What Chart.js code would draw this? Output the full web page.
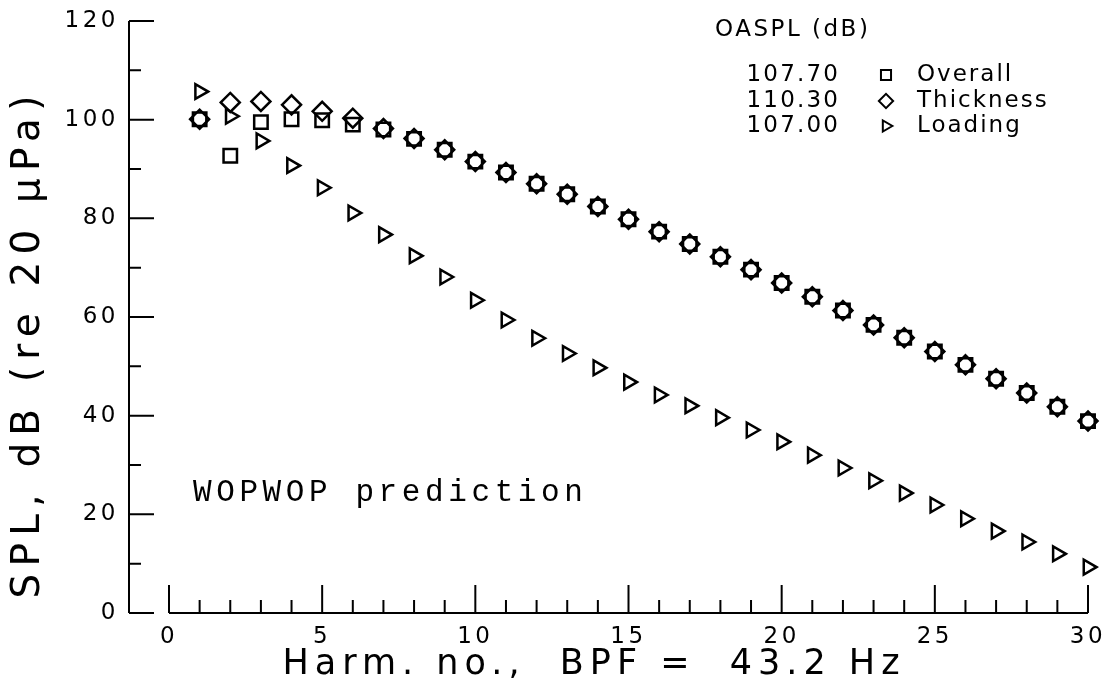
<!DOCTYPE html>
<html>
<head>
<meta charset="utf-8">
<title>WOPWOP harmonic spectrum</title>
<script src="https://cdn.jsdelivr.net/npm/chart.js@4/dist/chart.umd.min.js"></script>
<style>
  html, body { margin: 0; padding: 0; background: #fff; }
  canvas { display: block; }
</style>
</head>
<body>
<canvas id="spl" width="1109" height="691"></canvas>
<script>
// harmonic number of the blade passing frequency
const harmonics = [1, 2, 3, 4, 5, 6, 7, 8, 9, 10, 11, 12, 13, 14, 15,
  16, 17, 18, 19, 20, 21, 22, 23, 24, 25, 26, 27, 28, 29, 30];

// SPL per harmonic, dB re 20 uPa
const overall = [100.1, 92.7, 99.5, 100.1, 99.9, 99.0, 98.0, 96.1, 93.9, 91.5,
  89.3, 87.0, 84.9, 82.4, 79.8, 77.3, 74.8, 72.2, 69.6, 66.9,
  64.1, 61.3, 58.4, 55.8, 53.0, 50.3, 47.5, 44.6, 41.8, 38.9];
const thickness = [100.1, 103.5, 103.7, 103.0, 101.7, 100.3, 98.2, 96.2, 93.9, 91.5,
  89.3, 87.0, 84.9, 82.4, 79.8, 77.3, 74.8, 72.2, 69.6, 66.9,
  64.1, 61.3, 58.4, 55.8, 53.0, 50.3, 47.5, 44.6, 41.8, 38.9];
const loading = [105.7, 100.7, 95.7, 90.7, 86.2, 81.1, 76.7, 72.4, 68.1, 63.4,
  59.4, 55.7, 52.6, 49.7, 46.8, 44.2, 42.0, 39.6, 37.1, 34.7,
  32.0, 29.4, 26.8, 24.3, 21.9, 19.1, 16.6, 14.4, 12.0, 9.3];

const seriesNames = ['Overall', 'Thickness', 'Loading'];
const oasplValues = ['107.70', '110.30', '107.00'];

const xRange = [0, 30];
const yRange = [0, 120];
const xStep = 5;
const yStep = 20;

const SANS = '"DejaVu Sans", Arial, sans-serif';
const MONO = '"Liberation Mono", "Courier New", monospace';

const markerStyles = [
  { pointStyle: 'rect', radius: 9.5, rotation: 0 },
  { pointStyle: 'rectRot', radius: 9.5, rotation: 0 },
  { pointStyle: 'triangle', radius: 8.5, rotation: 90 }
];

const toPoints = (vals) => harmonics.map((h, i) => ({ x: h, y: vals[i] }));

function spacedText(ctx, text, x, y, spacing, align) {
  ctx.letterSpacing = spacing + 'px';
  ctx.textAlign = align;
  // canvas adds the spacing after the last glyph too, shift to compensate
  const shift = align === 'center' ? spacing / 2 : align === 'right' ? spacing : 0;
  ctx.fillText(text, x + shift, y);
}

// detached plotter-style axes, titles and the OASPL key
const plotterFrame = {
  id: 'plotterFrame',
  beforeDraw(chart) {
    chart.ctx.letterSpacing = '3.5px';
  },
  afterDraw(chart) {
    const { ctx, scales: { x, y } } = chart;
    const yBase = y.getPixelForValue(yRange[0]);
    const yTop = y.getPixelForValue(yRange[1]);
    const xStart = x.getPixelForValue(xRange[0]);
    const xEnd = x.getPixelForValue(xRange[1]);
    const yAxisX = xStart - 40;

    ctx.save();
    ctx.strokeStyle = '#000';
    ctx.lineWidth = 2;
    ctx.beginPath();
    ctx.moveTo(yAxisX, yTop);
    ctx.lineTo(yAxisX, yBase);
    for (let v = yRange[0]; v <= yRange[1]; v += yStep / 2) {
      const py = y.getPixelForValue(v);
      ctx.moveTo(yAxisX, py);
      ctx.lineTo(yAxisX + (v % yStep ? 12 : 25), py);
    }
    ctx.moveTo(xStart, yBase);
    ctx.lineTo(xEnd, yBase);
    for (let h = xRange[0]; h <= xRange[1]; h++) {
      const px = x.getPixelForValue(h);
      ctx.moveTo(px, yBase);
      ctx.lineTo(px, yBase - (h % xStep ? 13 : 28));
    }
    ctx.stroke();

    ctx.fillStyle = '#000';
    ctx.textBaseline = 'middle';

    ctx.font = '35px ' + SANS;
    spacedText(ctx, 'Harm. no.,  BPF =  43.2 Hz', 591, 665, 6, 'center');

    ctx.save();
    ctx.translate(29, 347);
    ctx.rotate(-Math.PI / 2);
    ctx.font = '39px ' + SANS;
    spacedText(ctx, 'SPL, dB (re 20 \u03bcPa)', 0, 0, 7.2, 'center');
    ctx.restore();

    ctx.textBaseline = 'alphabetic';
    ctx.font = '31px ' + MONO;
    spacedText(ctx, 'WOPWOP prediction', 193, 501, 4.6, 'left');

    ctx.textBaseline = 'middle';
    ctx.font = '23px ' + SANS;
    spacedText(ctx, 'OASPL (dB)', 715, 30, 2.5, 'left');
    const rowY = [75, 101, 126];
    seriesNames.forEach((name, i) => {
      spacedText(ctx, oasplValues[i], 838, rowY[i], 2.2, 'right');
      spacedText(ctx, name, 917, rowY[i], 2, 'left');
      const m = markerStyles[i];
      ctx.fillStyle = 'rgba(0,0,0,0)';
      ctx.lineWidth = 2;
      Chart.helpers.drawPoint(ctx, {
        pointStyle: m.pointStyle,
        radius: m.radius * 0.75,
        rotation: m.rotation,
        borderWidth: 2
      }, 886, rowY[i]);
      ctx.fillStyle = '#000';
    });
    ctx.restore();
  }
};

const series = [overall, thickness, loading];

new Chart(document.getElementById('spl'), {
  type: 'scatter',
  data: {
    datasets: series.map((vals, i) => ({
      label: seriesNames[i],
      data: toPoints(vals),
      showLine: false,
      pointStyle: markerStyles[i].pointStyle,
      pointRadius: markerStyles[i].radius,
      pointHoverRadius: markerStyles[i].radius,
      rotation: markerStyles[i].rotation,
      borderColor: '#000',
      backgroundColor: 'rgba(0,0,0,0)',
      borderWidth: 2.5,
      clip: false
    }))
  },
  options: {
    responsive: false,
    animation: false,
    devicePixelRatio: 1,
    layout: { padding: { left: 0, right: 21, top: 21, bottom: 0 } },
    plugins: {
      legend: { display: false },
      tooltip: { enabled: false }
    },
    scales: {
      x: {
        type: 'linear',
        min: xRange[0],
        max: xRange[1],
        grid: { display: false },
        border: { display: false },
        ticks: {
          stepSize: xStep,
          autoSkip: false,
          maxRotation: 0,
          color: '#000',
          padding: 2,
          font: { family: SANS, size: 23 }
        },
        afterFit(scale) {
          scale.height = 78;
          scale.paddingLeft = 0;
          scale.paddingRight = 0;
        }
      },
      y: {
        type: 'linear',
        min: yRange[0],
        max: yRange[1],
        grid: { display: false },
        border: { display: false },
        ticks: {
          stepSize: yStep,
          color: '#000',
          padding: 42,
          font: { family: SANS, size: 23 }
        },
        afterFit(scale) {
          scale.width = 169;
          // keep the tick padding from pushing the plot area down
          scale.paddingTop = 0;
          scale.paddingBottom = 0;
        }
      }
    }
  },
  plugins: [plotterFrame]
});
</script>
</body>
</html>
